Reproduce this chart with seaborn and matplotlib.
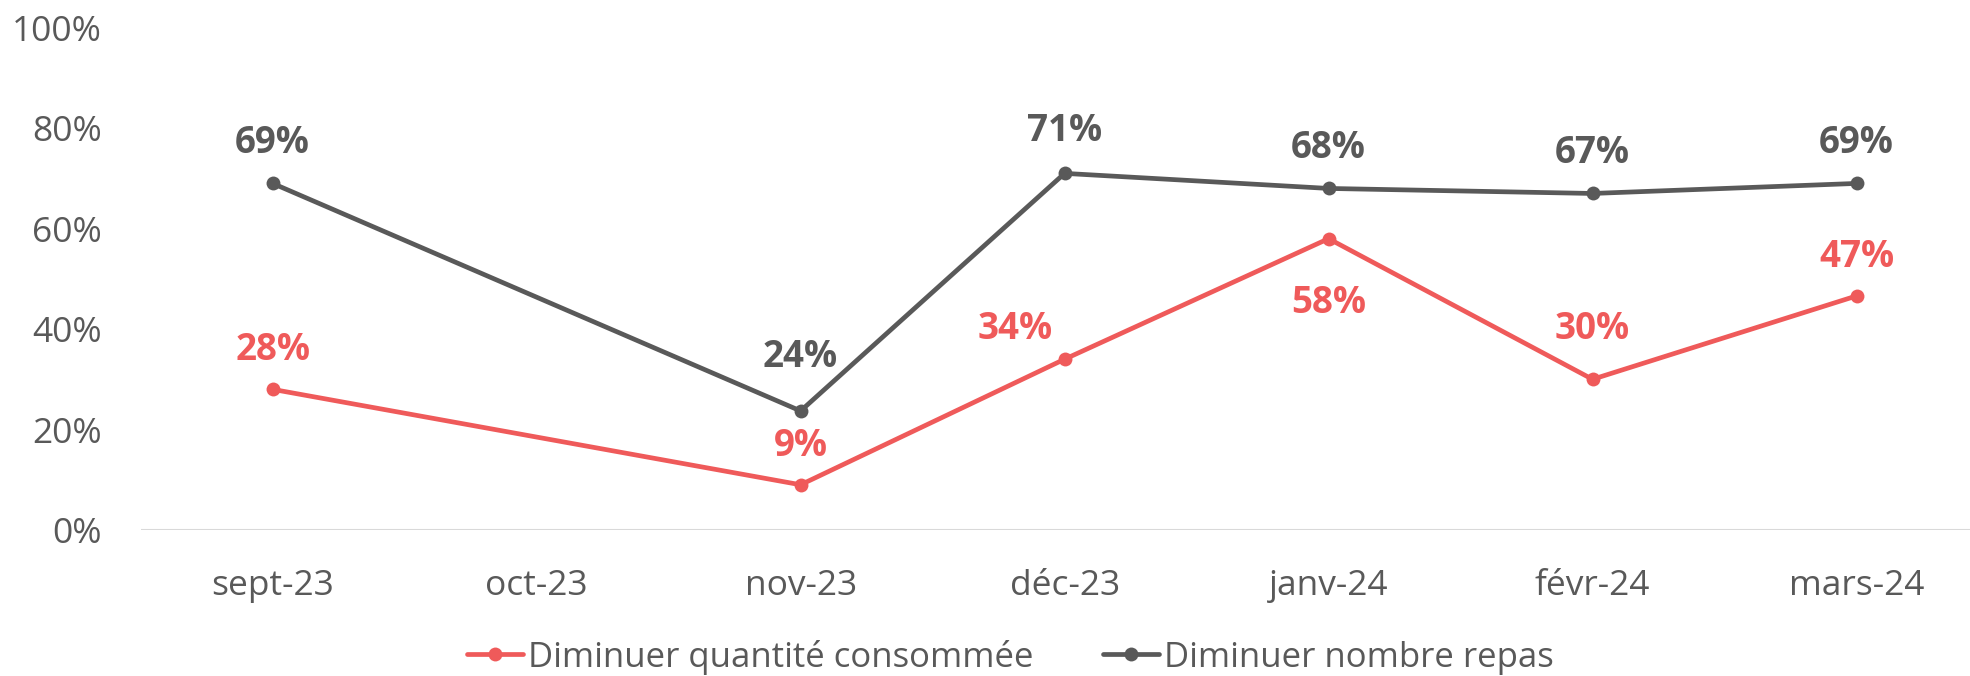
import numpy as np
import pandas as pd
import matplotlib
matplotlib.use("Agg")
import matplotlib.pyplot as plt
import seaborn as sns

months = ['sept-23', 'oct-23', 'nov-23', 'déc-23', 'janv-24', 'févr-24', 'mars-24']
quantite = [0.28, np.nan, 0.09, 0.34, 0.58, 0.30, 0.466]
nombre = [0.69, np.nan, 0.237, 0.71, 0.68, 0.67, 0.69]
series_names = ['Diminuer quantité consommée', 'Diminuer nombre repas']

RED = '#EF5A5A'
GRAY = '#595959'

# label offsets (pixels) for each point
off_quantite = [(0, 39), None, (0, 39), (-49, 30), (0, -64), (0, 50), (0, 39)]
off_nombre = [(0, 40), None, (0, 54), (0, 42), (0, 40), (0, 40), (0, 40)]

sns.set_style("white")
plt.rcParams['font.family'] = ['Open Sans', 'DejaVu Sans']

rows = []
for name, vals in zip(series_names, [quantite, nombre]):
    for i, v in enumerate(vals):
        if not np.isnan(v):
            rows.append({'pos': i, 'value': v, 'serie': name})
df = pd.DataFrame(rows)

fig = plt.figure(figsize=(19.7, 6.76), dpi=100)
ax = fig.add_axes([0.0714, 0.216, 0.938, 0.743])

sns.lineplot(data=df, x='pos', y='value', hue='serie', hue_order=series_names,
             palette=[RED, GRAY], marker='o', markersize=10, markeredgewidth=0,
             linewidth=3.4, ax=ax, legend=True)

for vals, offs, col in [(quantite, off_quantite, RED), (nombre, off_nombre, GRAY)]:
    for i, v in enumerate(vals):
        if np.isnan(v):
            continue
        ax.annotate(f"{round(v * 100)}%", (i, v), xytext=offs[i], textcoords='offset pixels',
                    ha='center', va='center', fontsize=26.5, fontweight='bold', color=col)

ax.set_xlim(-0.5, 6.5)
ax.set_ylim(0, 1)
ax.set_xticks(range(len(months)))
ax.set_xticklabels(months)
ax.set_yticks(np.arange(0, 1.01, 0.2))
ax.set_yticklabels([f"{int(t * 100)}%" for t in np.arange(0, 1.01, 0.2)])
ax.tick_params(axis='both', labelsize=25.5, colors=GRAY, length=0)
ax.tick_params(axis='y', pad=28)
ax.tick_params(axis='x', pad=28)
ax.set_xlabel('')
ax.set_ylabel('')
for s in ax.spines.values():
    s.set_visible(False)
ax.axhline(0, color='#d9d9d9', linewidth=1.5, zorder=0)

handles, labels = ax.get_legend_handles_labels()
ax.legend_.remove()
fig.legend(handles, labels, loc='center', bbox_to_anchor=(0.513, 0.028), ncol=2,
           frameon=False, fontsize=25, labelcolor=GRAY, handlelength=1.6,
           handletextpad=0.15, columnspacing=2.0)

fig.savefig('out.png', dpi=100)
